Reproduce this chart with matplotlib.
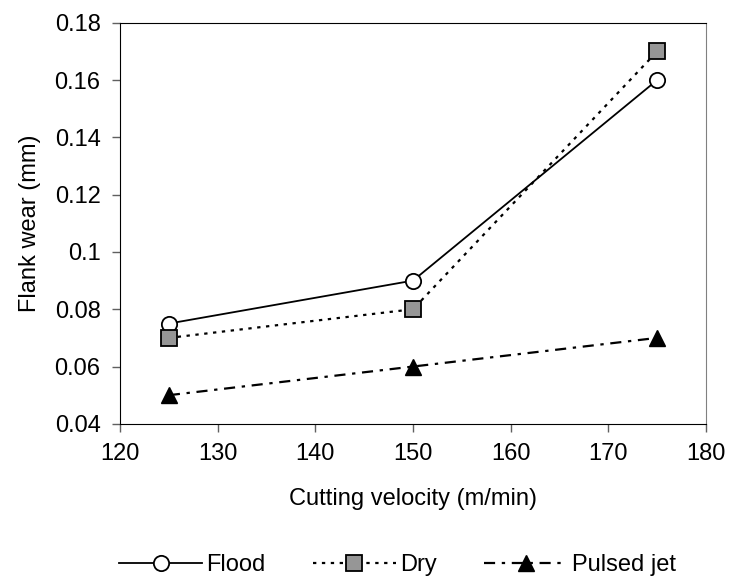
import matplotlib
matplotlib.use('Agg')
import matplotlib.pyplot as plt

plt.rcParams.update({
    'font.family': ['Liberation Sans', 'DejaVu Sans'],
    'font.size': 17,
})

velocity = [125, 150, 175]
flood = [0.075, 0.09, 0.16]
dry = [0.07, 0.08, 0.17]
pulsed = [0.05, 0.06, 0.07]

fig = plt.figure(figsize=(7.32, 5.83), dpi=100)
ax = fig.add_axes([0.164, 0.273, 0.8005, 0.688])

ax.plot(velocity, flood, '-', color='black', lw=1.3, marker='o', ms=11,
        mfc='white', mec='black', mew=1.3, label='Flood')
ax.plot(velocity, dry, color='black', lw=1.6, ls=(0, (1.5, 2.5)), marker='s', ms=11,
        mfc='#969696', mec='black', mew=1.3, label='Dry')
ax.plot(velocity, pulsed, color='black', lw=1.6, ls=(0, (5, 3, 1.5, 3)), marker='^', ms=12,
        mfc='black', mec='black', label='Pulsed jet')

ax.set_xlim(120, 180)
ax.set_ylim(0.04, 0.18)
ax.set_xticks(range(120, 181, 10))
ax.set_yticks([0.04, 0.06, 0.08, 0.1, 0.12, 0.14, 0.16, 0.18])
ax.set_yticklabels(['0.04', '0.06', '0.08', '0.1', '0.12', '0.14', '0.16', '0.18'])
ax.tick_params(direction='out', length=6, width=1, color='#606060', labelsize=17, pad=8)
ax.spines['right'].set_color('#808080')
ax.set_xlabel('Cutting velocity (m/min)', fontsize=17, labelpad=16)
ax.set_ylabel('Flank wear (mm)', fontsize=17, labelpad=10)

fig.legend(loc='center', bbox_to_anchor=(0.543, 0.031), ncol=3, frameon=False,
           fontsize=17, handlelength=3.5, columnspacing=2.0, handletextpad=0.2)

fig.savefig('out.png', dpi=100)
